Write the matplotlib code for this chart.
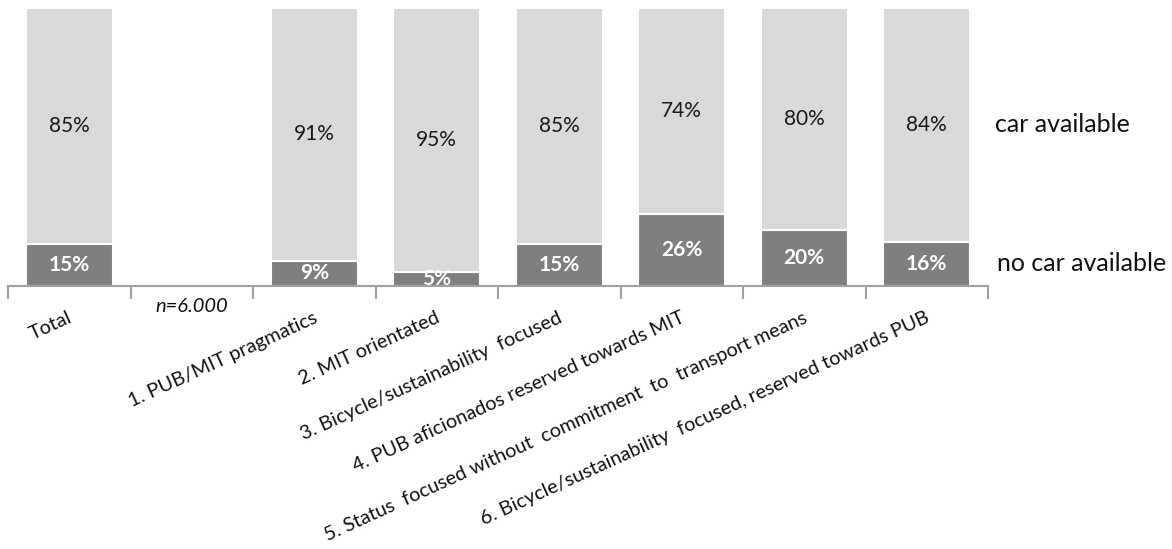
import numpy as np
import matplotlib
matplotlib.use("Agg")
import matplotlib.pyplot as plt
from matplotlib.transforms import blended_transform_factory

categories = ["Total", "", "1. PUB/MIT pragmatics", "2. MIT orientated",
              "3. Bicycle/sustainability  focused",
              "4. PUB aficionados reserved towards MIT",
              "5. Status  focused without  commitment  to  transport means",
              "6. Bicycle/sustainability  focused, reserved towards PUB"]
no_car = [15, np.nan, 9, 5, 15, 26, 20, 16]
car = [85, np.nan, 91, 95, 85, 74, 80, 84]
series_names = ["no car available", "car available"]
sample_note = "n=6.000"

plt.rcParams['font.family'] = ['Lato', 'DejaVu Sans']

fig = plt.figure(figsize=(11.72, 5.49), dpi=100)
W, H = 1172, 549
ax = fig.add_axes([8 / W, 1 - 286 / H, 980 / W, 278 / H])

x = np.arange(len(categories))
nc = np.array(no_car, dtype=float)
cv = np.array(car, dtype=float)
mask = ~np.isnan(nc)
bw = 0.71
ax.bar(x[mask], nc[mask], width=bw, color='#7f7f7f', edgecolor='white', linewidth=1.5)
ax.bar(x[mask], cv[mask], bottom=nc[mask], width=bw, color='#d9d9d9',
       edgecolor='white', linewidth=1.5)

for xi, a, b in zip(x[mask], nc[mask], cv[mask]):
    ax.text(xi, a / 2, f"{a:.0f}%", ha='center', va='center', color='white',
            fontsize=15, fontweight='bold', clip_on=True)
    ax.text(xi, a + b / 2, f"{b:.0f}%", ha='center', va='center', color='#1a1a1a',
            fontsize=15, clip_on=True)

ax.set_xlim(-0.5, len(categories) - 0.5)
ax.set_ylim(0, 100)
for s in ['top', 'right', 'left']:
    ax.spines[s].set_visible(False)
ax.spines['bottom'].set_color('#a0a0a0')
ax.spines['bottom'].set_linewidth(1.5)
ax.spines['bottom'].set_zorder(5)
ax.set_yticks([])
ax.set_xticks(np.arange(-0.5, len(categories) + 0.5, 1.0))
ax.set_xticklabels([])
ax.tick_params(axis='x', length=9, width=1.5, color='#a0a0a0', direction='out')

trans = blended_transform_factory(ax.transData, ax.transAxes)
for xi, lab in zip(x, categories):
    if not lab:
        continue
    ax.annotate(lab, xy=(xi, 0), xycoords=trans, xytext=(2, -31),
                textcoords='offset pixels', ha='right', va='center',
                rotation=24.5, rotation_mode='anchor', fontsize=14.3, color='#111111',
                annotation_clip=False)

ax.annotate(sample_note, xy=(1, 0), xycoords=trans, xytext=(0, -20),
            textcoords='offset pixels', ha='center', va='center',
            fontsize=14.5, fontstyle='italic', color='#111111', annotation_clip=False)

# series labels at right, aligned with last bar's segments
last = np.where(mask)[0][-1]
ax.annotate(series_names[0], xy=(1.0, nc[last] / 2), xycoords=('axes fraction', 'data'),
            xytext=(9, 0), textcoords='offset pixels', ha='left', va='center',
            fontsize=18, color='#111111', annotation_clip=False)
ax.annotate(series_names[1], xy=(1.0, nc[last] + cv[last] / 2),
            xycoords=('axes fraction', 'data'),
            xytext=(7, 0), textcoords='offset pixels', ha='left', va='center',
            fontsize=18, color='#111111', annotation_clip=False)

fig.savefig("out.png", dpi=100)
